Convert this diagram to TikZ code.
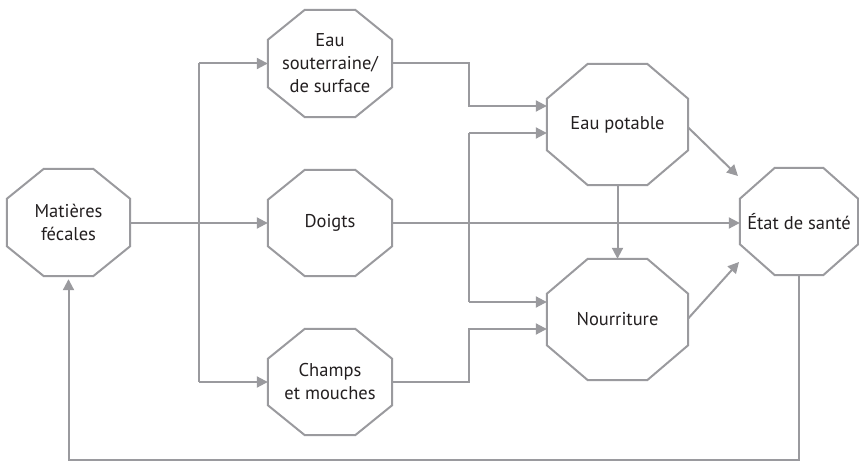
\documentclass[tikz,border=0pt]{standalone}
\usepackage{fontspec}
\setmainfont{PT Sans}
\usetikzlibrary{arrows.meta,calc}
\definecolor{linegray}{HTML}{9A9A9E}
\definecolor{txt}{HTML}{231F20}
\begin{document}
\begin{tikzpicture}[x=1pt,y=-1pt,
  box/.style={draw=none,inner sep=0pt,align=center,text=txt,
    font=\fontsize{18.5}{23}\selectfont},
  small/.style={box,minimum width=124pt,minimum height=107pt},
  large/.style={box,minimum width=141pt,minimum height=121pt},
  octline/.style={draw=linegray,line width=2pt,line join=miter},
  conn/.style={draw=linegray,line width=2pt},
  arr/.style={conn,-{Triangle[length=11pt,width=11pt]}}]
\useasboundingbox (0,0) rectangle (859,462);
\node[small,minimum width=123pt] (mf) at (68.5,222.5) {Matières\\fécales};
\node[small] (es) at (330,63.5) {Eau\\souterraine/\\de surface};
\node[small,minimum height=106pt] (dg) at (330,223) {Doigts};
\node[small,minimum height=106pt] (cm) at (330,382) {Champs\\et mouches};
\node[large] (ep) at (617.5,124.5) {Eau potable};
\node[large] (nr) at (617.5,319.5) {Nourriture};
\node[small,minimum width=118pt] (et) at (799,221.5) {État de santé};
\foreach \n/\a/\b in {mf/37/30,es/37/30,dg/37/30,cm/37/30,ep/41/35,nr/41/35,et/35/31}
  \draw[octline] ($(\n.north west)+(\a,0)$) -- ($(\n.north east)+(-\a,0)$)
    -- ($(\n.north east)+(0,\b)$) -- ($(\n.south east)+(0,-\b)$)
    -- ($(\n.south east)+(-\a,0)$) -- ($(\n.south west)+(\a,0)$)
    -- ($(\n.south west)+(0,-\b)$) -- ($(\n.north west)+(0,\b)$) -- cycle;
% junction coordinates
\coordinate (jl) at (199,0);
\coordinate (jm) at (469,0);
\coordinate (t1) at (738,176);
\coordinate (t2) at (739,262);
\coordinate (fb) at (0,460);
% left trunk
\draw[arr] (mf.east |- dg.west) -- (dg.west);
\draw[conn] (jl |- es.west) -- (jl |- cm.west);
\draw[arr] (jl |- es.west) -- (es.west);
\draw[arr] (jl |- cm.west) -- (cm.west);
% eau souterraine -> eau potable
\draw[arr] (es.east) -- (jm |- es.east) -- ($(jm |- ep.west)+(0,-18.5)$) -- ($(ep.west)+(0,-18.5)$);
% doigts branches
\draw[arr] (dg.east) -- (et.west |- dg.east);
\draw[conn] ($(jm |- ep.west)+(0,8.5)$) -- ($(jm |- nr.west)+(0,-17.5)$);
\draw[arr] ($(jm |- ep.west)+(0,8.5)$) -- ($(ep.west)+(0,8.5)$);
\draw[arr] ($(jm |- nr.west)+(0,-17.5)$) -- ($(nr.west)+(0,-17.5)$);
% champs -> nourriture
\draw[arr] (cm.east) -- (jm |- cm.east) -- ($(jm |- nr.west)+(0,9.5)$) -- ($(nr.west)+(0,9.5)$);
% eau potable -> nourriture
\draw[arr] (ep.south) -- (nr.north);
% to etat de sante
\draw[arr] ($(ep.east)+(0,3)$) -- (t1);
\draw[arr] ($(nr.east)+(0,-1)$) -- (t2);
% feedback
\draw[arr,shorten >=3pt] (et.south) -- (et.south |- fb) -- (mf.south |- fb) -- (mf.south);
\end{tikzpicture}
\end{document}
